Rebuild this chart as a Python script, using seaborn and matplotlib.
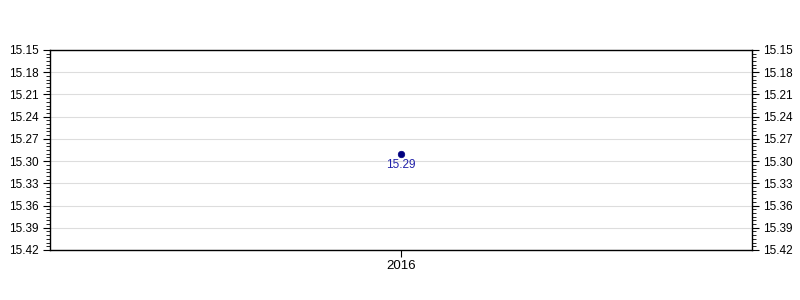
import matplotlib
matplotlib.use("Agg")
import matplotlib.pyplot as plt
import seaborn as sns
import numpy as np
import pandas as pd
from matplotlib.ticker import MultipleLocator, FormatStrFormatter

years = [2016]
values = [15.29]
labels = ["15.29"]
ymin, ymax = 15.15, 15.42

sns.set_theme(style="white")
plt.rcParams['font.family'] = ['Liberation Sans', 'DejaVu Sans']

df = pd.DataFrame({"year": years, "value": values})

fig = plt.figure(figsize=(8, 3), dpi=100)
ax = fig.add_axes([0.0625, 0.1667, 0.8775, 0.6667])

sns.scatterplot(data=df, x="year", y="value", ax=ax, color="#000080",
                s=22, edgecolor="#000080", linewidth=0.5, zorder=3, legend=False)
for x, y, t in zip(years, values, labels):
    ax.annotate(t, (x, y), xytext=(0, -3.5), textcoords="offset points",
                ha="center", va="top", color="#2222aa", fontsize=8.5)

ax.set_xlim(2015, 2017)
ax.set_xticks(years)
ax.set_xticklabels([str(y) for y in years])
ax.set_ylim(ymax, ymin)
ax.yaxis.set_major_locator(MultipleLocator(0.03))
ax.yaxis.set_minor_locator(MultipleLocator(0.005))
ax.yaxis.set_major_formatter(FormatStrFormatter("%.2f"))
ax.set_yticks(np.round(np.arange(ymin, ymax + 0.001, 0.03), 2))
ax.set_xlabel("")
ax.set_ylabel("")
ax.grid(axis="y", color="#dddddd", linewidth=0.8)
ax.set_axisbelow(True)

for s in ax.spines.values():
    s.set_color("black")
    s.set_linewidth(1)

ax.tick_params(axis="y", which="both", left=True, right=True,
               labelleft=True, labelright=True, direction="out",
               color="black", labelsize=8.5, labelcolor="black", pad=3)
ax.tick_params(axis="y", which="major", length=5, width=0.8)
ax.tick_params(axis="y", which="minor", length=3, width=0.6)
ax.tick_params(axis="x", which="major", bottom=True, length=5, width=0.8,
               direction="out", color="black", labelsize=9.5, labelcolor="black", pad=2.5)

fig.savefig("out.png", dpi=100)
